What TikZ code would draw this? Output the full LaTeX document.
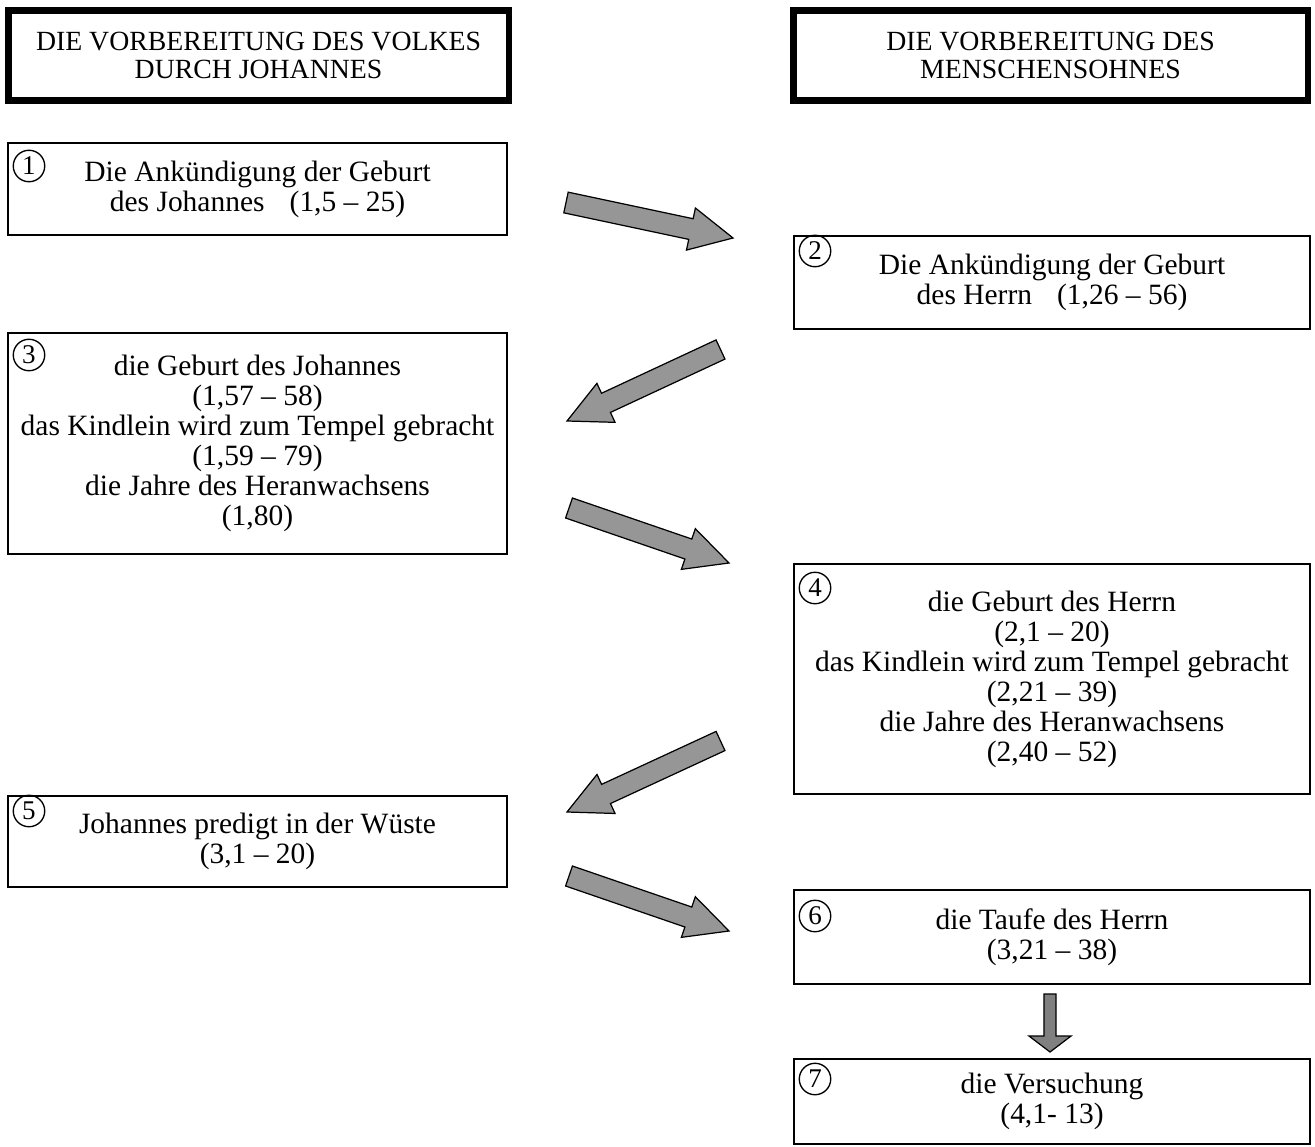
\documentclass[tikz,border=0pt]{standalone}
\usepackage{fontspec}
\setmainfont{Liberation Serif}
\usetikzlibrary{calc}

\definecolor{arrowgray}{RGB}{150,150,150}
\definecolor{downgray}{RGB}{128,128,128}

% block arrow: tail, tip, half shaft, half head, head length, fill
\newcommand{\blockarrow}[6]{%
  \coordinate (hb) at ($(#2)!#5!(#1)$);
  \draw[barrow, fill=#6] ($(#1)!#3!90:(#2)$) -- ($(hb)!#3!90:(#2)$) -- ($(hb)!#4!90:(#2)$) -- (#2)
    -- ($(hb)!#4!-90:(#2)$) -- ($(hb)!#3!-90:(#2)$) -- ($(#1)!#3!-90:(#2)$) -- cycle;}

\begin{document}
\begin{tikzpicture}[x=0.407pt, y=-0.407pt,
  title/.style={draw, line width=2.65pt, align=center, inner sep=0pt, minimum height=36.8pt,
    font=\fontsize{11.3}{11.4}\selectfont},
  box/.style={draw, line width=0.8pt, align=center, inner sep=0pt, font=\fontsize{12}{12.2}\selectfont},
  leftbox/.style={box, minimum width=203.1pt},
  rightbox/.style={box, minimum width=210pt},
  num/.style={draw, circle, line width=0.55pt, inner sep=0pt, minimum size=12.8pt,
    font=\fontsize{11}{11}\selectfont},
  barrow/.style={draw, line width=0.5pt, line join=miter}]
\useasboundingbox (0,0) rectangle (1315,1147);

% column heads
\node[title, minimum width=203.7pt] (headL) at (258.5,55.5) {DIE VORBEREITUNG DES VOLKES\\DURCH JOHANNES};
\node[title, minimum width=209.4pt] (headR) at (1050.5,55.5) {DIE VORBEREITUNG DES\\MENSCHENSOHNES};

% boxes
\node[leftbox, minimum height=37.4pt] (b1) at (257.5,189) {Die Ankündigung der Geburt\\des Johannes\hspace{0.85em}(1,5 – 25)};
\node[rightbox, minimum height=37.9pt] (b2) at (1052,282.5) {Die Ankündigung der Geburt\\des Herrn\hspace{0.85em}(1,26 – 56)};
\node[leftbox, minimum height=90pt] (b3) at (257.5,443.5) {die Geburt des Johannes\\(1,57 – 58)\\das Kindlein wird zum Tempel gebracht\\(1,59 – 79)\\die Jahre des Heranwachsens\\(1,80)};
\node[rightbox, minimum height=93.6pt] (b4) at (1052,679) {die Geburt des Herrn\\(2,1 – 20)\\das Kindlein wird zum Tempel gebracht\\(2,21 – 39)\\die Jahre des Heranwachsens\\(2,40 – 52)};
\node[leftbox, minimum height=37pt] (b5) at (257.5,841.5) {Johannes predigt in der Wüste\\(3,1 – 20)};
\node[rightbox, minimum height=38.3pt] (b6) at (1052,937) {die Taufe des Herrn\\(3,21 – 38)};
\node[rightbox, minimum height=34.6pt] (b7) at (1052,1101.5) {die Versuchung\\(4,1- 13)};

% numbers
\node[num] (n1) at (29,166) {1};
\node[num] (n2) at (815,251) {2};
\node[num] (n3) at (29,355) {3};
\node[num] (n4) at (815,588) {4};
\node[num] (n5) at (29,811) {5};
\node[num] (n6) at (815,916) {6};
\node[num] (n7) at (815,1079) {7};

% arrow ends
\coordinate (s1) at (566,202.5);  \coordinate (e1) at (733,238);
\coordinate (s2) at (720.5,349.5); \coordinate (e2) at (567,421);
\coordinate (s3) at (569,508);    \coordinate (e3) at (729,563);
\coordinate (s4) at (720.5,741);  \coordinate (e4) at (567,812);
\coordinate (s5) at (569,876);    \coordinate (e5) at (729,931);
\coordinate (s6) at (1050,994);   \coordinate (e6) at (1050,1052);

\foreach \a/\b in {s1/e1, s2/e2, s3/e3, s4/e4, s5/e5}
  \blockarrow{\a}{\b}{4.3pt}{8.75pt}{17.5pt}{arrowgray};
\blockarrow{s6}{e6}{2.45pt}{8.55pt}{6.5pt}{downgray}
\end{tikzpicture}
\end{document}
